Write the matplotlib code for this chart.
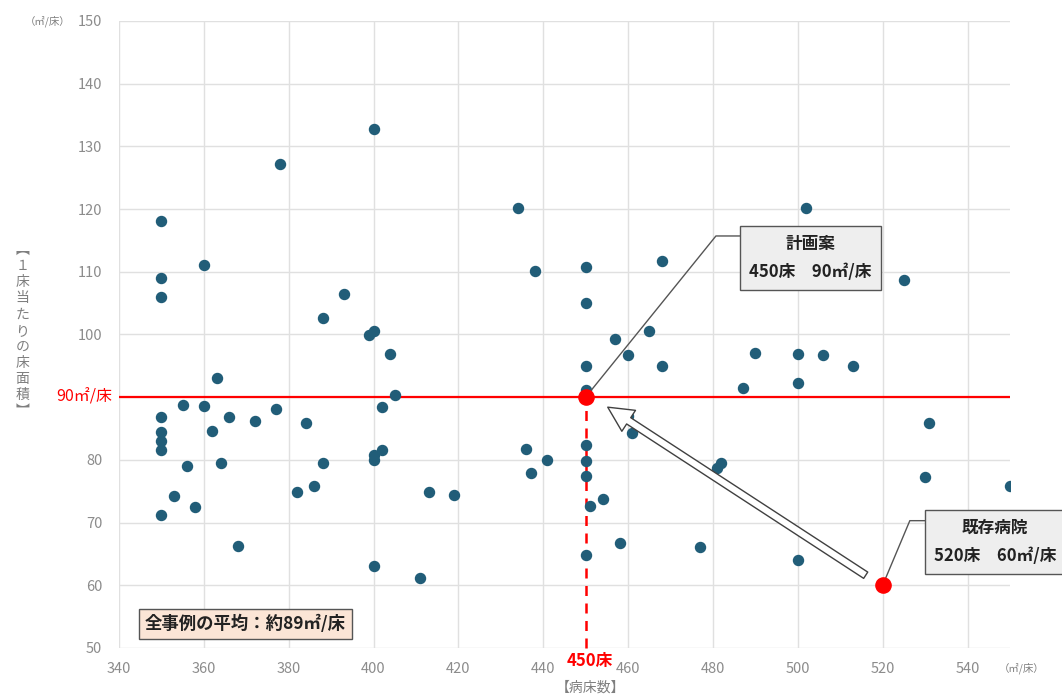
import matplotlib
matplotlib.use("Agg")
import matplotlib.pyplot as plt

plt.rcParams['font.family'] = ['Noto Sans CJK JP', 'DejaVu Sans']

# Scatter data: beds vs floor area per bed
beds = [350, 350, 350, 350, 350, 350, 350, 350, 353, 356, 355, 358, 360, 360,
        362, 363, 364, 366, 368, 372, 377, 378, 382, 384, 386, 388, 388, 393,
        399, 400, 400, 400, 400, 400, 402, 402, 404, 405, 411, 413, 419, 434,
        436, 437, 438, 441, 450, 450, 450, 450, 450, 450, 450, 450, 451, 454,
        457, 458, 460, 460, 461, 465, 468, 468, 477, 481, 482, 487, 490, 500,
        500, 500, 502, 506, 513, 525, 530, 531, 550]
area = [118.1, 109.0, 106.0, 86.8, 84.4, 83.0, 81.6, 71.2, 74.2, 79.0, 88.8,
        72.5, 111.1, 88.6, 84.6, 93.1, 79.5, 86.8, 66.3, 86.2, 88.1, 127.2,
        74.9, 85.9, 75.8, 79.5, 102.6, 106.5, 99.9, 100.6, 132.8, 80.8, 80.0,
        63.1, 88.4, 81.6, 96.9, 90.4, 61.2, 74.9, 74.4, 120.2, 81.7, 77.9,
        110.1, 80.0, 110.8, 105.0, 95.0, 91.1, 82.4, 79.8, 77.4, 64.8, 72.6,
        73.8, 99.3, 66.7, 96.7, 87.0, 84.3, 100.6, 111.7, 95.0, 66.1, 78.7,
        79.5, 91.5, 97.0, 96.9, 92.3, 64.0, 120.2, 96.7, 95.0, 108.7, 77.3,
        85.9, 75.8]

plan = (450, 90)
existing = (520, 60)
x_ticks = [340, 360, 380, 400, 420, 440, 460, 480, 500, 520, 540]
y_ticks = [50, 60, 70, 80, 90, 100, 110, 120, 130, 140, 150]
y_tick_labels = ["50", "60", "70", "80", "", "100", "110", "120", "130", "140", "150"]

fig = plt.figure(figsize=(10.62, 6.96), dpi=100)
ax = fig.add_axes([0.112, 0.069, 0.839, 0.901])
ax.set_xlim(340, 550)
ax.set_ylim(50, 150)
ax.set_xticks(x_ticks)
ax.set_yticks(y_ticks)
ax.set_yticklabels(y_tick_labels)
ax.grid(True, color="#e0e0e0", lw=1)
ax.set_axisbelow(True)
for s in ax.spines.values():
    s.set_visible(False)
ax.tick_params(length=0, colors="#8c8c8c", labelsize=10.5)
ax.tick_params(axis="x", pad=10)
ax.tick_params(axis="y", pad=12)

ax.scatter(beds, area, s=52, color="#215d78", zorder=3)

# 90 m2 line and 450 beds line
ax.axhline(plan[1], color="#ff0000", lw=1.6, zorder=2)
ax.plot([plan[0], plan[0]], [50, plan[1]], color="#ff0000", lw=1.8,
        ls=(0, (4, 3)), zorder=2, clip_on=False)
ax.scatter([plan[0], existing[0]], [plan[1], existing[1]], s=120,
           color="#ff0000", zorder=5)

ax.text(-0.008, plan[1], "90㎡/床", color="#ff0000", fontsize=11.5,
        transform=ax.get_yaxis_transform(), ha="right", va="center")
ax.text(451, 48.0, "450床", color="#ff0000", fontsize=12, fontweight="bold",
        ha="center", va="center", clip_on=False)

# axis labels / units
fig.text(0.045, 0.97, "（㎡/床）", fontsize=7.5, color="#7f7f7f", ha="center", va="center")
fig.text(0.962, 0.04, "（㎡/床）", fontsize=7.5, color="#7f7f7f", ha="center", va="center")
fig.text(0.556, 0.012, "【病床数】", fontsize=10, color="#7f7f7f", ha="center", va="center")
fig.text(0.021, 0.525, "\n".join("︻１床当たりの床面積︼"), fontsize=10, color="#7f7f7f",
         ha="center", va="center", linespacing=1.2)

# big hollow arrow from existing to plan
ax.annotate("", xy=(455.2, 88.4), xytext=(516, 61.6),
            arrowprops=dict(arrowstyle="simple,head_length=0.9,head_width=0.9,tail_width=0.27",
                            fc="white", ec="#404040", lw=1, mutation_scale=20,
                            shrinkA=0, shrinkB=0), zorder=4)

# callout boxes with bent leader lines
box = dict(boxstyle="square,pad=0.55", fc="#eeeeee", ec="#555555", lw=1)
ax.text(503, 112.2, "計画案\n450床　90㎡/床", fontsize=12, ha="center", va="center",
        color="#222222", fontweight="bold", linespacing=1.75, bbox=box, zorder=6)
ax.plot([plan[0], 480.7, 486.4], [plan[1], 115.7, 115.7], color="#555555", lw=1, zorder=4)

ax.text(546.5, 66.9, "既存病院\n520床　60㎡/床", fontsize=12, ha="center", va="center",
        color="#222222", fontweight="bold", linespacing=1.75, bbox=box, zorder=6,
        clip_on=False)
ax.plot([existing[0], 526.4, 529.9], [existing[1], 70.3, 70.3], color="#555555", lw=1, zorder=4)

ax.text(369.8, 53.8, "全事例の平均：約89㎡/床", fontsize=12.5, ha="center", va="center",
        color="#222222", fontweight="bold", zorder=6,
        bbox=dict(boxstyle="square,pad=0.35", fc="#fbe5d6", ec="#555555", lw=1))

fig.savefig("out.png", dpi=100)
